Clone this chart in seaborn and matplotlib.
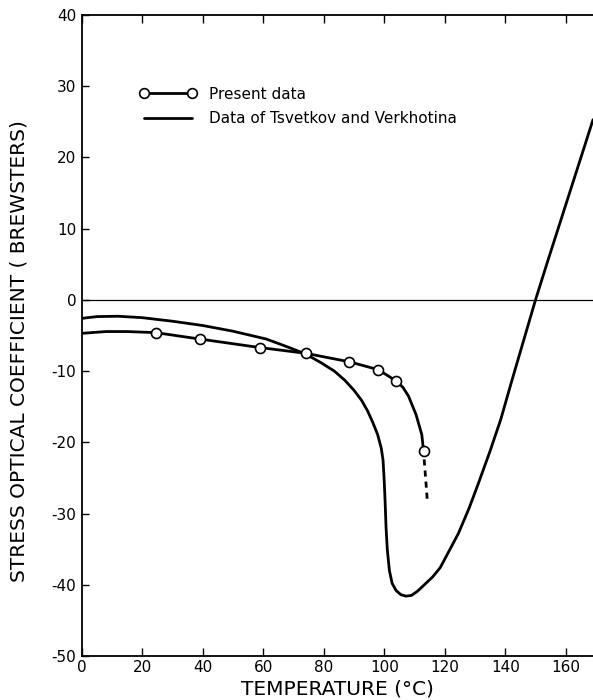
import matplotlib
matplotlib.use("Agg")
import matplotlib.pyplot as plt
import seaborn as sns
import pandas as pd
from matplotlib.lines import Line2D

# Stress optical coefficient (brewsters) vs temperature (deg C)
present_temp = [24.5, 39, 59, 74, 88.5, 98, 104, 113]
present_coef = [-4.6, -5.5, -6.7, -7.5, -8.7, -9.8, -11.4, -21.2]

# smooth curve drawn through the present measurements
present_curve_temp = [0, 8, 15, 24.5, 39, 59, 74, 88.5, 98, 104, 106.2, 108, 110.5, 112.4, 113]
present_curve_coef = [-4.7, -4.45, -4.45, -4.6, -5.5, -6.7, -7.5, -8.7, -9.8, -11.4,
                      -12.3, -13.5, -16.1, -18.9, -21.2]

# uncertain continuation beyond the last measurement
extension_temp = [113.2, 114.2]
extension_coef = [-22.4, -28.0]

tsvetkov_temp = [0, 5, 12, 20, 30, 40, 50, 61, 68, 74, 79, 83.5, 87, 90, 92.5, 94.5,
                 96.2, 97.8, 99, 99.6, 100, 100.3, 100.6, 101, 101.7, 102.6, 103.9,
                 105.5, 107.2, 109, 111, 113.5, 116, 118.5, 121.5, 124.5, 128, 131,
                 135, 138.5, 142, 146, 150, 154, 158, 162, 166, 169]
tsvetkov_coef = [-2.6, -2.35, -2.3, -2.5, -3.0, -3.6, -4.4, -5.5, -6.6, -7.6, -8.8,
                 -10.0, -11.3, -12.7, -14.1, -15.6, -17.2, -18.9, -20.8, -22.5, -25.5,
                 -28.5, -32.0, -35.0, -38.0, -39.8, -40.8, -41.4, -41.6, -41.5, -40.9,
                 -39.9, -38.9, -37.6, -35.2, -32.8, -29.3, -25.9, -21.2, -16.8, -11.6,
                 -5.8, 0.0, 5.4, 10.7, 16.0, 21.3, 25.3]

x_ticks = [0, 20, 40, 60, 80, 100, 120, 140, 160]
x_tick_labels = ["0", "20", "40", "60", "80", "100", "120", "140", "160"]
y_ticks = [-50, -40, -30, -20, -10, 0, 10, 20, 30, 40]
y_tick_labels = ["-50", "-40", "-30", "-20", "-10", "0", "10", "20", "30", "40"]

legend_labels = ["Present data", "Data of Tsvetkov and Verkhotina"]

sns.set_theme(style="white")
plt.rcParams["font.family"] = ["DejaVu Sans"]

fig = plt.figure(figsize=(5.93, 7.00), dpi=100)
ax = fig.add_axes([0.1378, 0.0629, 0.8622, 0.9157])

ink = "black"
curve_lw = 2.0

ax.axhline(0, color=ink, lw=0.9, zorder=1)

df_ts = pd.DataFrame({"t": tsvetkov_temp, "c": tsvetkov_coef})
sns.lineplot(data=df_ts, x="t", y="c", sort=False, estimator=None, color=ink,
             lw=curve_lw, ax=ax, zorder=2)

df_pc = pd.DataFrame({"t": present_curve_temp, "c": present_curve_coef})
sns.lineplot(data=df_pc, x="t", y="c", sort=False, estimator=None, color=ink,
             lw=curve_lw, ax=ax, zorder=2)

df_ext = pd.DataFrame({"t": extension_temp, "c": extension_coef})
sns.lineplot(data=df_ext, x="t", y="c", sort=False, estimator=None, color=ink,
             lw=curve_lw, ax=ax, zorder=2, dashes=False, linestyle=(0, (2.2, 1.8)))

df_p = pd.DataFrame({"t": present_temp, "c": present_coef})
sns.scatterplot(data=df_p, x="t", y="c", ax=ax, s=52, marker="o",
                facecolor="white", edgecolor=ink, linewidth=1.2, zorder=3)

ax.set_xlim(0, 169)
ax.set_ylim(-50, 40)
ax.set_xticks(x_ticks)
ax.set_xticklabels(x_tick_labels)
ax.set_yticks(y_ticks)
ax.set_yticklabels(y_tick_labels)

ax.tick_params(axis="x", direction="in", length=6, width=1.0, colors=ink,
               labelsize=11, pad=3, top=True, bottom=True, labeltop=False)
ax.tick_params(axis="y", direction="in", length=5, width=1.0, colors=ink,
               labelsize=11, pad=4, left=True, right=False)

for side in ["left", "bottom", "top"]:
    ax.spines[side].set_visible(True)
    ax.spines[side].set_color(ink)
    ax.spines[side].set_linewidth(1.3)
ax.spines["right"].set_visible(False)

ax.set_xlabel("TEMPERATURE (°C)", fontsize=14.5, color=ink)
ax.xaxis.set_label_coords(0.5, -0.036)
ax.set_ylabel("STRESS OPTICAL COEFFICIENT ( BREWSTERS)", fontsize=14.5, color=ink)
ax.yaxis.set_label_coords(-0.105, 0.475)

handles = [
    Line2D([0], [0], color=ink, lw=curve_lw, marker="o", markersize=7,
           markerfacecolor="white", markeredgecolor=ink, markeredgewidth=1.2),
    Line2D([0], [0], color=ink, lw=curve_lw),
]
ax.legend(handles, legend_labels, loc="upper left", bbox_to_anchor=(0.112, 0.888),
          frameon=False, numpoints=2, fontsize=11, handlelength=3.75,
          handletextpad=0.85, labelspacing=0.6, borderpad=0, borderaxespad=0,
          labelcolor=ink)

fig.savefig("out.png", dpi=100, facecolor="white")
